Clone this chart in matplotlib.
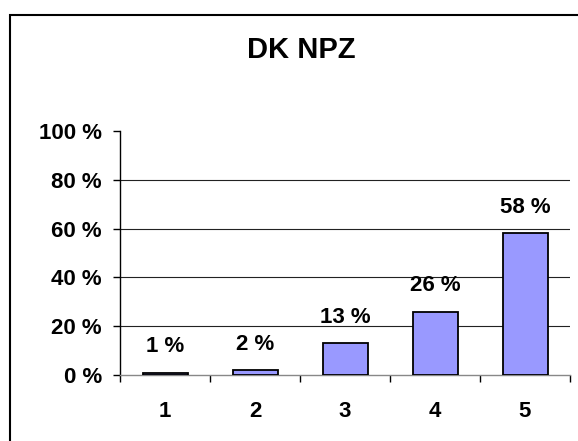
import matplotlib
matplotlib.use("Agg")
import matplotlib.pyplot as plt
from matplotlib.patches import Rectangle
import numpy as np

plt.rcParams['font.family'] = ['Liberation Sans', 'DejaVu Sans']
plt.rcParams['font.weight'] = 'bold'

categories = ['1', '2', '3', '4', '5']
values = [1, 2, 13, 26, 58]
yticks = [0, 20, 40, 60, 80, 100]
title = 'DK NPZ'

fig = plt.figure(figsize=(5.78, 4.41), dpi=100)
ax = fig.add_axes([120/578, 1-375/441, 450/578, 244/441])

x = np.arange(len(categories))
bars = ax.bar(x, values, width=0.5, color='#9999FF', edgecolor='black', linewidth=1.3, zorder=3)

for xi, v in zip(x, values):
    ax.annotate(f'{v} %', (xi, v), xytext=(0, 11), textcoords='offset points',
                ha='center', va='bottom', fontsize=16, fontweight='bold')

ax.set_xlim(-0.5, len(categories) - 0.5)
ax.set_ylim(0, 100)

ax.set_yticks(yticks)
ax.set_yticklabels([f'{t} %' for t in yticks], fontsize=16, fontweight='bold')
ax.tick_params(axis='y', length=5, width=1, pad=8, color='black')

ax.set_xticks(x)
ax.set_xticklabels(categories, fontsize=16, fontweight='bold')
ax.set_xticks(np.arange(len(categories) + 1) - 0.5, minor=True)
ax.tick_params(axis='x', which='major', length=0, pad=19)
ax.tick_params(axis='x', which='minor', length=5, width=1, color='black')

for t in yticks[1:-1]:
    ax.axhline(t, color='#222222', linewidth=0.8, zorder=1)

for s in ['top', 'right']:
    ax.spines[s].set_visible(False)
ax.spines['left'].set_linewidth(1)
ax.spines['bottom'].set_color('#888888')
ax.spines['bottom'].set_linewidth(1)

fig.text(0.5 + 12/578, 1 - 50/441, title, ha='center', va='center', fontsize=21, fontweight='bold')

border = Rectangle((10/578, -0.5), 2, 1.5 - 15/441 , transform=fig.transFigure,
                   fill=False, edgecolor='black', linewidth=1.5)
fig.patches.append(border)

fig.savefig('out.png', dpi=100)
